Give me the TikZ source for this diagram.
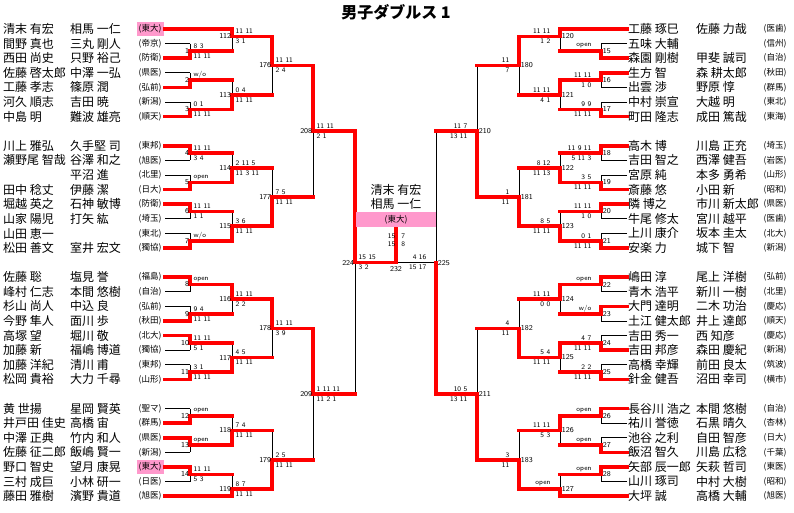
\documentclass[tikz,border=0pt]{standalone}
\usepackage{fontspec}
\newfontfamily\jp{Noto Sans CJK JP}
\definecolor{hlpink}{RGB}{255,153,204}
\tikzset{
  lose/.style={black, line width=0.8pt},
  win/.style={red, line width=3.6pt, line cap=rect},
  mno/.style={font=\sffamily\fontsize{7.5}{7.5}\selectfont, inner sep=0.6pt},
  score/.style={font=\sffamily\fontsize{7}{7}\selectfont, inner sep=0.4pt},
  pname/.style={font=\jp\fontsize{12}{12}\selectfont, anchor=west, inner sep=0pt},
  club/.style={font=\jp\fontsize{8.5}{8.5}\selectfont, inner sep=0pt, minimum width=27pt, minimum height=14pt},
}

% match data: number/x/next x/top row/bottom row/out row/winner row/score above/score below
\def\leftmatches{1/190/232/1/2/1.5/2/8 3/11 11, 2/190/232/3/4/3.5/4/{w/o}/{}, 3/190/232/5/6/5.5/6/0 1/11 11,
 4/190/232/8/9/8.5/8/11 11/3 4, 5/190/232/10/11/10.5/11/open/{}, 6/190/232/12/13/12.5/12/11 11/1 1,
 7/190/232/14/15/14.5/15/{w/o}/{}, 8/190/232/17/18/17.5/17/open/{}, 9/190/232/19/20/19.5/20/9 4/11 11,
 10/190/232/21/22/21.5/21/11 11/5 1, 11/190/232/23/24/23.5/24/3 1/11 11, 12/190/232/26/27/26.5/27/open/{},
 13/190/232/28/29/28.5/28/open/{}, 14/190/232/30/31/30.5/30/11 11/5 3,
 112/232/272/0/1.5/0.5/0/11 11/3 1, 113/232/272/3.5/5.5/4.5/5.5/0 4/11 11,
 114/232/272/8.5/10.5/9.5/10.5/2 11 5/11 3 11, 115/232/272/12.5/14.5/13.5/14.5/3 6/11 11,
 116/232/272/17.5/19.5/18.5/17.5/11 11/2 2, 117/232/272/21.5/23.5/22.5/23.5/4 5/11 11,
 118/232/272/26.5/28.5/27.5/28.5/7 4/11 11, 119/232/272/30.5/32/31.5/32/8 7/11 11,
 176/272/313/0.5/4.5/2.5/0.5/11 11/2 4, 177/272/313/9.5/13.5/11.5/13.5/7 5/11 11,
 178/272/313/18.5/22.5/20.5/18.5/11 11/3 9, 179/272/313/27.5/31.5/29.5/31.5/2 5/11 11,
 208/313/355/2.5/11.5/7/2.5/11 11/2 1, 209/313/355/20.5/29.5/25/20.5/1 11 11/11 2 1,
 224/355/396/7/25/16/7/15 15/3 2}
\def\rightmatches{15/601/560/1/2/1.5/2/open/{}, 16/601/560/3/4/3.5/3/11 11/1 0, 17/601/560/5/6/5.5/6/9 9/11 11,
 18/601/560/8/9/8.5/8/11 9 11/5 11 3, 19/601/560/10/11/10.5/11/3 5/11 11, 20/601/560/12/13/12.5/12/11 11/1 0,
 21/601/560/14/15/14.5/15/0 1/11 11, 22/601/560/17/18/17.5/17/open/{}, 23/601/560/19/20/19.5/19/{w/o}/{},
 24/601/560/21/22/21.5/22/4 7/11 11, 25/601/560/23/24/23.5/24/2 2/11 11, 26/601/560/26/27/26.5/26/open/{},
 27/601/560/28/29/28.5/29/open/{}, 28/601/560/30/31/30.5/30/open/{},
 120/560/519/0/1.5/0.5/0/11 11/1 2, 121/560/519/3.5/5.5/4.5/3.5/11 11/4 1,
 122/560/519/8.5/10.5/9.5/10.5/8 12/11 13, 123/560/519/12.5/14.5/13.5/14.5/8 5/11 11,
 124/560/519/17.5/19.5/18.5/17.5/11 11/0 0, 125/560/519/21.5/23.5/22.5/21.5/5 4/11 11,
 126/560/519/26.5/28.5/27.5/26.5/11 11/5 3, 127/560/519/30.5/32/31.5/32/open/{},
 180/519/477/0.5/4.5/2.5/0.5/11/7, 181/519/477/9.5/13.5/11.5/13.5/1/11,
 182/519/477/18.5/22.5/20.5/22.5/4/11, 183/519/477/27.5/31.5/29.5/31.5/3/11,
 210/477/436/2.5/11.5/7/11.5/11 7/13 11, 211/477/436/20.5/29.5/25/29.5/10 5/13 11,
 225/436/436/7/25/16/25/4 16/15 17}

\begin{document}
\begin{tikzpicture}[x=1pt, y=-14.6pt]
\useasboundingbox (0,-1.9863) rectangle (794,33.0822);

\node[font=\jp\bfseries\fontsize{16}{16}\selectfont] (title) at (396,-1.164) {男子ダブルス 1};

% left pairs
\foreach \r/\na/\nb/\cl/\fc in {0/清末 有宏/相馬 一仁/東大/hlpink, 1/間野 真也/三丸 剛人/帝京/none,
  2/西田 尚史/只野 裕己/防衛/none, 3/佐藤 啓太郎/中澤 一弘/県医/none, 4/工藤 孝志/篠原 潤/弘前/none,
  5/河久 順志/吉田 暁/新潟/none, 6/中島 明/難波 雄亮/順天/none, 8/川上 雅弘/久手堅 司/東邦/none,
  9/瀬野尾 智哉/谷澤 和之/旭医/none, 10//平沼 進/北里/none, 11/田中 稔丈/伊藤 潔/日大/none,
  12/堀越 英之/石神 敏博/防衛/none, 13/山家 陽児/打矢 紘/埼玉/none, 14/山田 恵一//東北/none,
  15/松田 善文/室井 宏文/獨協/none, 17/佐藤 聡/塩見 誉/福島/none, 18/峰村 仁志/本間 悠樹/自治/none,
  19/杉山 尚人/中込 良/弘前/none, 20/今野 隼人/面川 歩/秋田/none, 21/高塚 望/堀川 敬/北大/none,
  22/加藤 新/福嶋 博道/獨協/none, 23/加藤 洋紀/清川 甫/東邦/none, 24/松岡 貴裕/大力 千尋/山形/none,
  26/黄 世揚/星岡 賢英/聖マ/none, 27/井戸田 佳史/高橋 宙/群馬/none, 28/中澤 正典/竹内 和人/県医/none,
  29/佐藤 征二郎/飯嶋 賢一/新潟/none, 30/野口 智史/望月 康晃/東大/hlpink, 31/三村 成巨/小林 研一/日医/none,
  32/藤田 雅樹/濱野 貴道/旭医/none}{
  \node[pname] (la\r) at (3,\r) {\na};
  \node[pname] (lb\r) at (70,\r) {\nb};
  \node[club, fill=\fc] (lc\r) at (150,\r) {(\cl)};
  \coordinate (L\r) at (165,\r);
}

% right pairs
\foreach \r/\na/\nb/\cl in {0/工藤 琢巳/佐藤 力哉/医歯, 1/五味 大輔//信州, 2/森園 剛樹/甲斐 誠司/自治,
  3/生方 智/森 耕太郎/秋田, 4/出雲 渉/野原 惇/群馬, 5/中村 崇宣/大越 明/東北, 6/町田 隆志/成田 篤哉/東海,
  8/高木 博/川島 正充/埼玉, 9/吉田 智之/西澤 健吾/岩医, 10/宮原 純/本多 勇希/山形, 11/斎藤 悠/小田 新/昭和,
  12/隣 博之/市川 新太郎/県医, 13/牛尾 修太/宮川 越平/医歯, 14/上川 康介/坂本 圭太/北大, 15/安楽 力/城下 智/新潟,
  17/嶋田 淳/尾上 洋樹/弘前, 18/青木 浩平/新川 一樹/北里, 19/大門 達明/二木 功治/慶応, 20/土江 健太郎/井上 達郎/順天,
  21/吉田 秀一/西 知彦/慶応, 22/吉田 邦彦/森田 慶紀/新潟, 23/高橋 幸輝/前田 良太/筑波, 24/針金 健吾/沼田 幸司/横市,
  26/長谷川 浩之/本間 悠樹/自治, 27/祐川 誉徳/石黒 晴久/杏林, 28/池谷 之利/自田 智彦/日大, 29/飯沼 智久/川島 広稔/千葉,
  30/矢部 辰一郎/矢萩 哲司/東医, 31/山川 琢司/中村 大樹/昭和, 32/大坪 誠/高橋 大輔/旭医}{
  \node[pname] (ra\r) at (628,\r) {\na};
  \node[pname] (rb\r) at (696,\r) {\nb};
  \node[club] (rc\r) at (775,\r) {(\cl)};
  \coordinate (R\r) at (627,\r);
}

% black frame of every match
\foreach \n/\mx/\nx/\ta/\tb/\ot/\wn/\sa/\sb in \leftmatches {
  \coordinate (m\n) at (\mx,\ot);
  \coordinate (m\n-t) at (\mx,\ta);
  \coordinate (m\n-b) at (\mx,\tb);
  \coordinate (m\n-w) at (\mx,\wn);
  \coordinate (m\n-o) at (\nx,\ot);
  \draw[lose] (m\n-t) -- (m\n-b);
}
\foreach \n/\mx/\nx/\ta/\tb/\ot/\wn/\sa/\sb in \rightmatches {
  \coordinate (m\n) at (\mx,\ot);
  \coordinate (m\n-t) at (\mx,\ta);
  \coordinate (m\n-b) at (\mx,\tb);
  \coordinate (m\n-w) at (\mx,\wn);
  \coordinate (m\n-o) at (\nx,\ot);
  \draw[lose] (m\n-t) -- (m\n-b);
}
\foreach \r/\m in {1/1,3/2,5/3,9/4,10/5,13/6,14/7,18/8,19/9,22/10,23/11,26/12,29/13,31/14}
  \draw[lose] (L\r) -- (L\r -| m\m);
\foreach \r/\m in {1/15,4/16,5/17,9/18,10/19,13/20,14/21,18/22,20/23,21/24,23/25,27/26,28/27,31/28}
  \draw[lose] (R\r) -- (R\r -| m\m);
\coordinate (m232) at (396,16);
\draw[lose] (m232) -- (m225);

% red winner paths
\foreach \r/\m in {0/112,2/1,4/2,6/3,8/4,11/5,12/6,15/7,17/8,20/9,21/10,24/11,27/12,28/13,30/14,32/119}
  \draw[win] (L\r) -- (L\r -| m\m);
\foreach \r/\m in {0/120,2/15,3/16,6/17,8/18,11/19,12/20,15/21,17/22,19/23,22/24,24/25,26/26,29/27,30/28,32/127}
  \draw[win] (R\r) -- (R\r -| m\m);
\foreach \n/\mx/\nx/\ta/\tb/\ot/\wn/\sa/\sb in \leftmatches
  \draw[win] (m\n-w) -- (m\n) -- (m\n-o);
\foreach \n/\mx/\nx/\ta/\tb/\ot/\wn/\sa/\sb in \rightmatches
  \draw[win] (m\n-w) -- (m\n) -- (m\n-o);

% champion
\node[pname, anchor=center] (cha) at (396,11.03) {清末 有宏};
\node[pname, anchor=center] (chb) at (396,11.99) {相馬 一仁};
\node[club, fill=hlpink, minimum width=80pt, minimum height=15pt] (champ) at (396,13.05) {(東大)};
\draw[win, line cap=butt] (m232) -- (champ.south);
\node[score] (f1) at (396.5,14.18) {15\hspace{6pt}7};
\node[score] (f2) at (396.5,14.73) {15\hspace{6pt}8};
\node[mno, anchor=north] (n232) at ([yshift=-3pt]m232) {232};

% numbers and scores
\foreach \n/\mx/\nx/\ta/\tb/\ot/\wn/\sa/\sb in \leftmatches {
  \node[mno, anchor=east] (n\n) at (m\n) {\n};
  \node[score, anchor=west] (sa\n) at ([shift={(3pt,5pt)}]m\n) {\sa};
  \node[score, anchor=west] (sb\n) at ([shift={(3pt,-5pt)}]m\n) {\sb};
}
\foreach \n/\mx/\nx/\ta/\tb/\ot/\wn/\sa/\sb in \rightmatches {
  \node[mno, anchor=west] (n\n) at ([xshift=1pt]m\n) {\n};
  \node[score, anchor=east] (sa\n) at ([shift={(-9pt,5pt)}]m\n) {\sa};
  \node[score, anchor=east] (sb\n) at ([shift={(-9pt,-5pt)}]m\n) {\sb};
}

\end{tikzpicture}
\end{document}
